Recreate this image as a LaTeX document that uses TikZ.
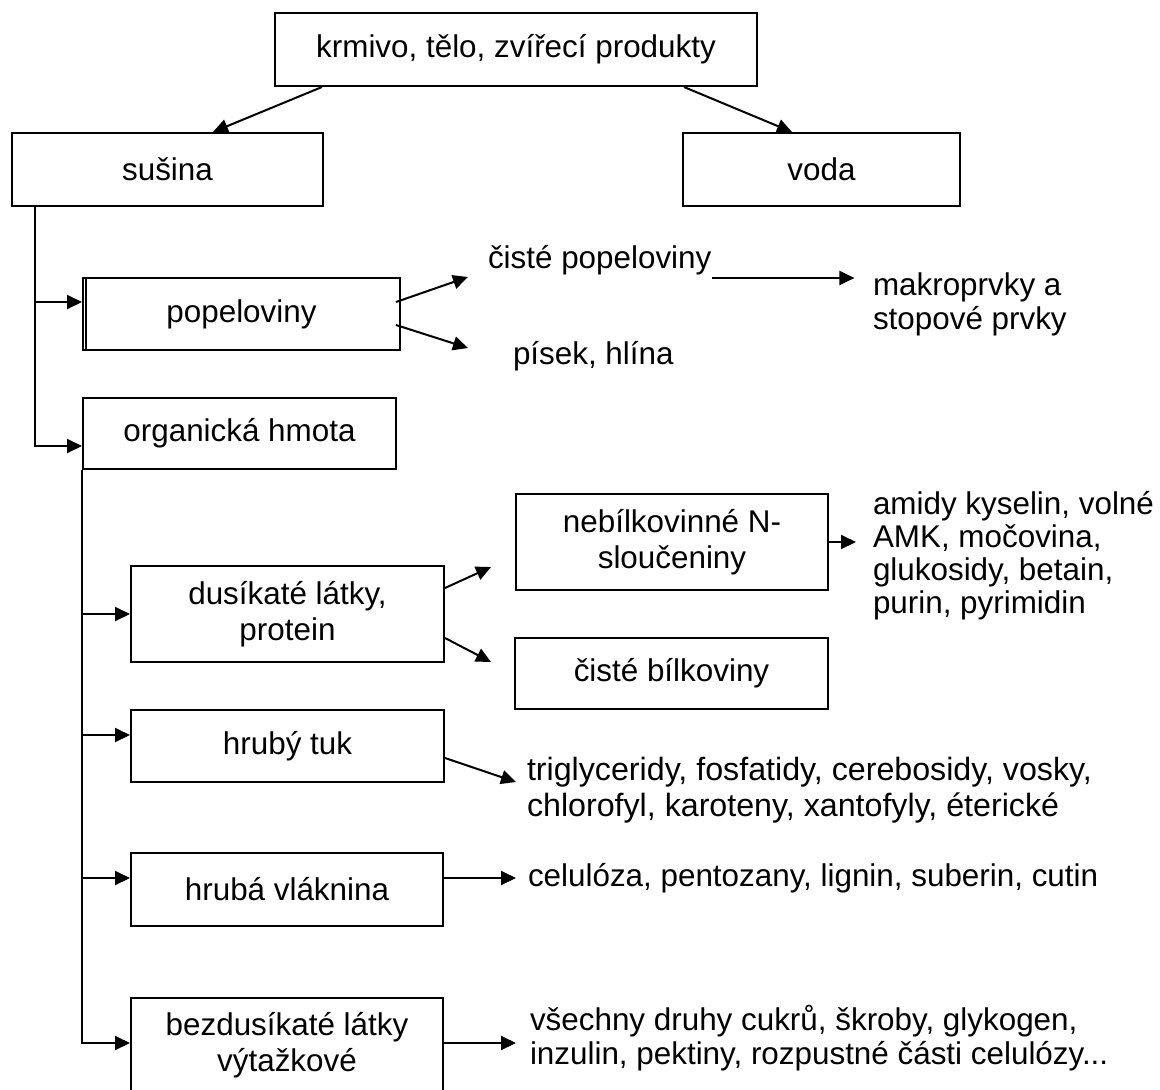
\documentclass[tikz,border=0pt]{standalone}
\usepackage{fontspec}
\setmainfont{Liberation Sans}
\usetikzlibrary{arrows.meta}
\newcommand\diagfont{\fontsize{31.4}{34}\selectfont}
\newcommand\boxfont{\fontsize{31.4}{35.5}\selectfont}
\begin{document}
\begin{tikzpicture}[x=1pt,y=-1pt,line width=2pt,
  box/.style={draw,line width=2pt,inner sep=0pt,align=center,font=\boxfont},
  arr/.style={-{Triangle[length=15pt,width=14pt]},line width=2pt},
  txt/.style={inner sep=0pt,align=left,font=\diagfont}]
\useasboundingbox[fill=white] (0,0) rectangle (1160,1090);
% boxes
\node[box,minimum width=482pt,minimum height=73pt] (top) at (516,49.5) {krmivo, tělo, zvířecí produkty};
\node[box,minimum width=311pt,minimum height=73pt] (susina) at (167.5,169.5) {sušina};
\node[box,minimum width=277pt,minimum height=73pt] (voda) at (821.5,169.5) {voda};
\node[box,minimum width=317pt,minimum height=72pt] (popel) at (241.5,314) {popeloviny};
\node[box,minimum width=313pt,minimum height=71pt] (org) at (239.5,433.5) {organická hmota};
\node[box,minimum width=313pt,minimum height=96pt] (dus) at (287.5,614) {dusíkaté látky,\\protein};
\node[box,minimum width=312pt,minimum height=96pt] (nebil) at (672,542) {nebílkovinné N-\\sloučeniny};
\node[box,minimum width=313pt,minimum height=71pt] (cist) at (671.5,673.5) {čisté bílkoviny};
\node[box,minimum width=313pt,minimum height=72pt] (tuk) at (287.5,746) {hrubý tuk};
\node[box,minimum width=312pt,minimum height=73pt] (vlak) at (287,889.5) {hrubá vláknina};
\node[box,minimum width=312pt,minimum height=94pt] (bezd) at (287,1045) {bezdusíkaté látky\\výtažkové};
% double left edge of popeloviny
\draw ([xshift=4pt]popel.south west) -- ([xshift=4pt]popel.north west);
% free texts
\node[txt,anchor=base west] (cp) at (487,268) {čisté popeloviny};
\node[txt,anchor=base west] (pisek) at (512,364) {písek, hlína};
\node[txt,anchor=west] (makro) at (872,304) {makroprvky a\\stopové prvky};
\node[txt,anchor=west,font=\fontsize{31.4}{33}\selectfont] (amidy) at (872,556) {amidy kyselin, volné\\AMK, močovina,\\glukosidy, betain,\\purin, pyrimidin};
\node[txt,anchor=west,font=\fontsize{32.2}{36}\selectfont] (tri) at (526,790) {triglyceridy, fosfatidy, cerebosidy, vosky,\\chlorofyl, karoteny, xantofyly, éterické};
\node[txt,anchor=base west] (cel) at (527,886) {celulóza, pentozany, lignin, suberin, cutin};
\node[txt,anchor=west] (vse) at (529,1038) {všechny druhy cukrů, škroby, glykogen,\\inzulin, pektiny, rozpustné části celulózy...};
% top arrows
\draw[arr] ([xshift=48pt]top.south west) -- ([xshift=45.5pt]susina.north);
\draw[arr] ([xshift=-74pt]top.south east) -- ([xshift=-29.5pt]voda.north);
% first trunk
\coordinate (t1) at ([xshift=24pt]susina.south west);
\coordinate (pin) at ([yshift=12pt]popel.west);
\coordinate (oin) at ([yshift=-12.5pt]org.west);
\draw[arr] (t1) |- (oin);
\draw[arr] (t1 |- pin) -- (pin);
% popeloviny outputs
\draw[arr] ([xshift=-5pt,yshift=12pt]popel.east) -- ++(72,-25);
\draw[arr] ([xshift=-5pt,yshift=-11pt]popel.east) -- ++(72,23);
\draw[arr] ([yshift=-10pt]cp.base east) -- ++(142,0);
% second trunk
\coordinate (t2) at (org.south west);
\coordinate (tin) at ([yshift=11pt]tuk.west);
\coordinate (vin) at ([yshift=11.5pt]vlak.west);
\coordinate (bin) at ([yshift=2pt]bezd.west);
\draw[arr] (t2) |- (bin);
\draw[arr] (t2 |- dus.west) -- (dus.west);
\draw[arr] (t2 |- tin) -- (tin);
\draw[arr] (t2 |- vin) -- (vin);
% dusikate outputs
\draw[arr] ([yshift=26pt]dus.east) -- ([xshift=-24pt,yshift=-25pt]nebil.west);
\draw[arr] ([yshift=-24pt]dus.east) -- ([xshift=-23pt,yshift=11.5pt]cist.west);
\draw[arr] (nebil.east) -- ++(27,0);
% right outputs
\draw[arr] ([yshift=-12pt]tuk.east) -- ++(71,24);
\draw[arr] ([yshift=11.5pt]vlak.east) -- ++(72,0);
\draw[arr] ([yshift=2pt]bezd.east) -- ++(72,0);
\end{tikzpicture}
\end{document}
